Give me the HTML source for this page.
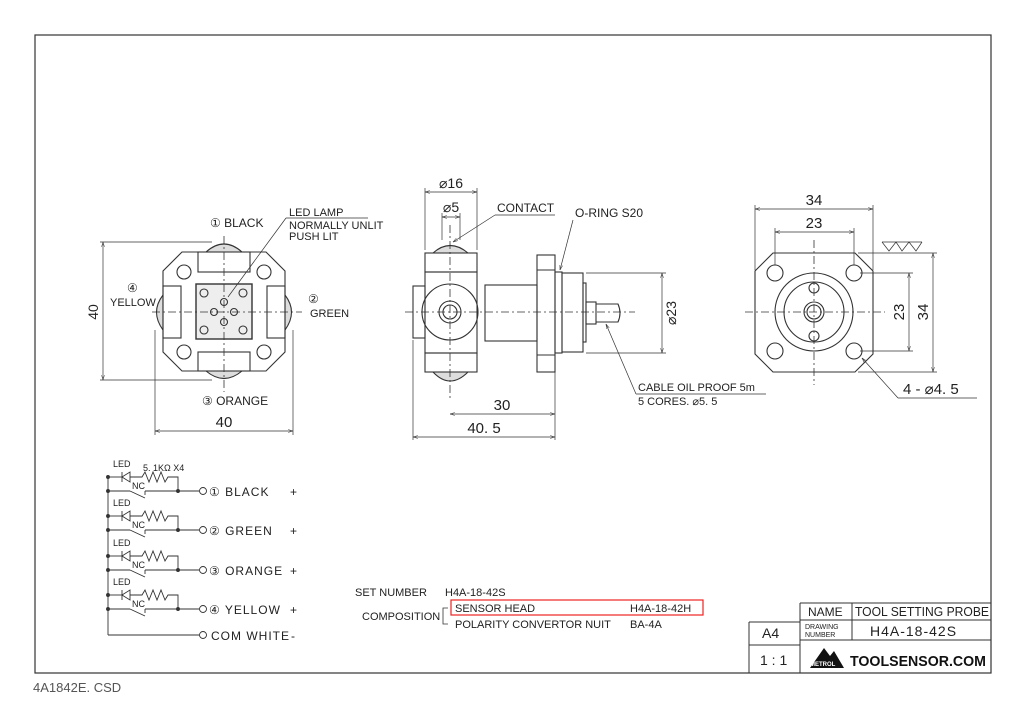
<!DOCTYPE html>
<html><head><style>body{margin:0;background:#fff}svg{display:block}text{font-family:"Liberation Sans",sans-serif;fill:#222;stroke:none}</style></head><body>
<svg width="1024" height="724" viewBox="0 0 1024 724" xmlns="http://www.w3.org/2000/svg" stroke="#333" fill="none" stroke-width="1">
<defs><marker id="a" viewBox="0 0 10 10" refX="10" refY="5" markerWidth="7" markerHeight="7" orient="auto-start-reverse"><path d="M0,2 L10,5 L0,8" stroke="#333" fill="none"/></marker></defs>
<rect x="35" y="35" width="956" height="638" stroke-width="1.2"/>
<!-- LEFT VIEW -->
<g stroke-width="1.1">
<path d="M206,252 Q224,236 242,252" fill="#ddd"/><path d="M206,371 Q224,386 242,371" fill="#ddd"/>
<path d="M163,295 Q150,312 163,330" fill="#ddd"/><path d="M285,295 Q298,312 285,330" fill="#ddd"/>
<path d="M182,252 L266,252 L285,271 L285,352 L266,371 L182,371 L163,352 L163,271 Z" fill="#fff"/>
<rect x="198" y="252" width="52" height="20"/><rect x="198" y="352" width="52" height="19"/>
<rect x="163" y="286" width="18" height="52"/><rect x="267" y="286" width="18" height="52"/>
<rect x="196" y="284" width="56" height="55" fill="#eee" stroke-width="1.4"/>
<circle cx="184" cy="272" r="7"/><circle cx="264" cy="272" r="7"/><circle cx="184" cy="352" r="7"/><circle cx="264" cy="352" r="7"/>
<circle cx="204" cy="293" r="4"/><circle cx="243" cy="293" r="4"/><circle cx="204" cy="330" r="4"/><circle cx="243" cy="330" r="4"/>
<circle cx="224" cy="302" r="3.5"/><circle cx="224" cy="322" r="3.5"/><circle cx="214" cy="312" r="3.5"/><circle cx="234" cy="312" r="3.5"/>
</g>
<g stroke-dasharray="8,3,2,3" stroke-width="0.8"><line x1="224" y1="236" x2="224" y2="392"/><line x1="152" y1="312" x2="302" y2="312"/></g>
<line x1="100" y1="242" x2="212" y2="242" stroke-width=".7"/><line x1="100" y1="380" x2="212" y2="380" stroke-width=".7"/>
<line x1="103" y1="242" x2="103" y2="380" marker-start="url(#a)" marker-end="url(#a)" stroke-width=".7"/>
<line x1="155" y1="330" x2="155" y2="435" stroke-width=".7"/><line x1="293" y1="330" x2="293" y2="435" stroke-width=".7"/>
<line x1="155" y1="431" x2="293" y2="431" marker-start="url(#a)" marker-end="url(#a)" stroke-width=".7"/>
<text x="92" y="318" font-size="14" transform="rotate(-90 92 312)" text-anchor="middle">40</text>
<text x="224" y="427" font-size="15" text-anchor="middle">40</text>
<text x="210" y="227" font-size="12">① BLACK</text>
<text x="289" y="216" font-size="11">LED LAMP</text>
<line x1="286" y1="218" x2="368" y2="218" stroke-width=".7"/>
<text x="289" y="229" font-size="11">NORMALLY UNLIT</text><text x="289" y="240" font-size="11">PUSH LIT</text>
<line x1="286" y1="218" x2="228" y2="297" stroke-width=".7"/>
<text x="127" y="292" font-size="12">④</text><text x="110" y="306" font-size="11">YELLOW</text>
<text x="308" y="303" font-size="12">②</text><text x="310" y="317" font-size="11">GREEN</text>
<text x="202" y="405" font-size="12">③ ORANGE</text>
<!-- MIDDLE VIEW -->
<g stroke-width="1.1">
<path d="M433,253 Q450,238 468,253" fill="#ddd"/><path d="M433,372 Q450,390 468,372" fill="#ddd"/>
<rect x="425" y="253" width="52" height="19"/><rect x="425" y="353" width="52" height="19"/>
<rect x="425" y="272" width="52" height="81"/>
<rect x="413" y="286" width="12" height="52"/>
<circle cx="450" cy="312" r="28"/><circle cx="450" cy="312" r="11"/><circle cx="450" cy="312" r="7"/>
<rect x="485" y="285" width="52" height="56"/>
<rect x="537" y="255" width="18" height="117"/><line x1="537" y1="270" x2="555" y2="270"/><line x1="537" y1="355" x2="555" y2="355"/>
<rect x="555" y="272" width="7" height="81"/>
<rect x="562" y="273" width="21" height="79"/>
<rect x="583" y="283" width="3" height="59"/>
<rect x="586" y="302" width="10" height="22"/>
<path d="M596,304 L618,304 Q622,313 618,322 L596,322"/>
</g>
<line x1="405" y1="312" x2="635" y2="312" stroke-dasharray="8,3,2,3" stroke-width=".8"/>
<line x1="450" y1="225" x2="450" y2="400" stroke-dasharray="8,3,2,3" stroke-width=".8"/>
<g stroke-width=".7">
<line x1="425" y1="188" x2="425" y2="250"/><line x1="477" y1="188" x2="477" y2="250"/>
<line x1="425" y1="192" x2="477" y2="192" marker-start="url(#a)" marker-end="url(#a)"/>
<line x1="442" y1="213" x2="442" y2="240"/><line x1="460" y1="213" x2="460" y2="240"/>
<line x1="442" y1="217" x2="460" y2="217" marker-start="url(#a)" marker-end="url(#a)"/>
<line x1="555" y1="372" x2="555" y2="440"/><line x1="413" y1="340" x2="413" y2="440"/>
<line x1="450" y1="414" x2="555" y2="414" marker-start="url(#a)" marker-end="url(#a)"/>
<line x1="413" y1="437" x2="555" y2="437" marker-start="url(#a)" marker-end="url(#a)"/>
<line x1="586" y1="273" x2="666" y2="273"/><line x1="586" y1="353" x2="666" y2="353"/>
<line x1="662" y1="273" x2="662" y2="353" marker-start="url(#a)" marker-end="url(#a)"/>
<line x1="495" y1="215" x2="555" y2="215"/><line x1="495" y1="215" x2="453" y2="242" marker-end="url(#a)"/>
<line x1="573" y1="220" x2="560" y2="270" marker-end="url(#a)"/>
<line x1="636" y1="394" x2="766" y2="394"/><line x1="636" y1="394" x2="606" y2="324" marker-end="url(#a)"/>
</g>
<text x="451" y="188" font-size="14" text-anchor="middle">⌀16</text>
<text x="451" y="212" font-size="14" text-anchor="middle">⌀5</text>
<text x="497" y="212" font-size="12">CONTACT</text>
<text x="575" y="217" font-size="12">O-RING S20</text>
<text x="676" y="313" font-size="14" transform="rotate(-90 676 313)" text-anchor="middle">⌀23</text>
<text x="638" y="391" font-size="11">CABLE OIL PROOF 5m</text>
<text x="638" y="405" font-size="11">5 CORES. ⌀5. 5</text>
<text x="502" y="410" font-size="15" text-anchor="middle">30</text>
<text x="484" y="433" font-size="15" text-anchor="middle">40. 5</text>
<!-- RIGHT VIEW -->
<g stroke-width="1.1">
<path d="M773,253 L855,253 L873,271 L873,354 L855,372 L773,372 L755,354 L755,271 Z"/>
<circle cx="814" cy="312" r="39"/><circle cx="814" cy="312" r="30"/><circle cx="814" cy="312" r="10"/><circle cx="814" cy="312" r="7"/>
<circle cx="775" cy="273" r="8"/><circle cx="854" cy="273" r="8"/><circle cx="775" cy="351" r="8"/><circle cx="854" cy="351" r="8"/>
<circle cx="814" cy="288" r="5"/><circle cx="814" cy="336" r="5"/>
</g>
<g stroke-dasharray="8,3,2,3" stroke-width=".8"><line x1="814" y1="240" x2="814" y2="385"/><line x1="745" y1="312" x2="885" y2="312"/></g>
<g stroke-width=".7">
<line x1="755" y1="205" x2="755" y2="270"/><line x1="873" y1="205" x2="873" y2="270"/>
<line x1="755" y1="209" x2="873" y2="209" marker-start="url(#a)" marker-end="url(#a)"/>
<line x1="775" y1="228" x2="775" y2="265"/><line x1="854" y1="228" x2="854" y2="265"/>
<line x1="775" y1="232" x2="854" y2="232" marker-start="url(#a)" marker-end="url(#a)"/>
<line x1="860" y1="273" x2="913" y2="273"/><line x1="860" y1="351" x2="913" y2="351"/>
<line x1="909" y1="273" x2="909" y2="351" marker-start="url(#a)" marker-end="url(#a)"/>
<line x1="858" y1="253" x2="937" y2="253"/><line x1="858" y1="372" x2="937" y2="372"/>
<line x1="933" y1="253" x2="933" y2="372" marker-start="url(#a)" marker-end="url(#a)"/>
<path d="M882,242 L922,242 M882,242 L889,251 L896,242 L902,251 L909,242 L916,251 L922,242"/>
<line x1="898" y1="398" x2="977" y2="398"/><line x1="898" y1="398" x2="862" y2="358" marker-end="url(#a)"/>
</g>
<text x="814" y="205" font-size="15" text-anchor="middle">34</text>
<text x="814" y="228" font-size="15" text-anchor="middle">23</text>
<text x="904" y="312" font-size="15" transform="rotate(-90 904 312)" text-anchor="middle">23</text>
<text x="928" y="312" font-size="15" transform="rotate(-90 928 312)" text-anchor="middle">34</text>
<text x="903" y="394" font-size="15">4 - ⌀4. 5</text>
<!-- SCHEMATIC -->
<g stroke-width=".9">
<line x1="108" y1="477" x2="108" y2="635"/><line x1="108" y1="635" x2="199" y2="635"/><circle cx="203" cy="635" r="3.5"/>
<g id="r">
<line x1="108" y1="477" x2="122" y2="477"/><path d="M122,477 L130,472 L130,482 Z"/><line x1="122" y1="472" x2="122" y2="482"/>
<path d="M130,477 L142,477 L145,472 L149,482 L153,472 L157,482 L161,472 L165,482 L168,477 L178,477 L178,491"/>
<line x1="108" y1="491" x2="130" y2="491"/><line x1="130" y1="491" x2="145" y2="498"/><line x1="145" y1="495" x2="145" y2="491"/><line x1="145" y1="491" x2="199" y2="491"/>
<circle cx="108" cy="477" r="1.5" fill="#333"/><circle cx="108" cy="491" r="1.5" fill="#333"/><circle cx="178" cy="491" r="1.5" fill="#333"/>
<circle cx="203" cy="491" r="3.5"/>
</g>
<use href="#r" y="39"/><use href="#r" y="79"/><use href="#r" y="118"/>
</g>
<g font-size="9"><text x="113" y="467">LED</text><text x="113" y="506">LED</text><text x="113" y="546">LED</text><text x="113" y="585">LED</text>
<text x="132" y="489">NC</text><text x="132" y="528">NC</text><text x="132" y="568">NC</text><text x="132" y="607">NC</text>
<text x="143" y="471">5. 1KΩ  X4</text></g>
<g font-size="12" letter-spacing="1"><text x="209" y="496">① BLACK</text><text x="209" y="535">② GREEN</text><text x="209" y="575">③ ORANGE</text><text x="209" y="614">④ YELLOW</text><text x="211" y="640">COM WHITE</text>
<text x="290" y="496">+</text><text x="290" y="535">+</text><text x="290" y="575">+</text><text x="290" y="614">+</text><text x="291" y="640">-</text></g>
<!-- SET NUMBER -->
<g font-size="11"><text x="355" y="596">SET NUMBER</text><text x="445" y="596">H4A-18-42S</text>
<text x="362" y="620">COMPOSITION</text><text x="455" y="612">SENSOR HEAD</text><text x="630" y="612">H4A-18-42H</text>
<text x="455" y="628">POLARITY CONVERTOR NUIT</text><text x="630" y="628">BA-4A</text></g>
<path d="M448,608 L443,608 L443,624 L448,624" stroke-width=".8"/>
<rect x="451" y="600" width="252" height="15" stroke="#e22" stroke-width="1.2"/>
<!-- TITLE BLOCK -->
<g stroke-width="1"><path d="M800,603 L991,603 M800,603 L800,673 M800,620 L991,620 M800,640 L991,640 M852,603 L852,640 M749,622 L800,622 M749,622 L749,673 M749,645 L800,645"/></g>
<text x="808" y="616" font-size="12">NAME</text><text x="855" y="616" font-size="13" textLength="134" lengthAdjust="spacingAndGlyphs">TOOL SETTING PROBE</text>
<text x="805" y="629" font-size="7">DRAWING</text><text x="805" y="637" font-size="7">NUMBER</text>
<text x="870" y="636" font-size="14" letter-spacing="1">H4A-18-42S</text>
<text x="762" y="638" font-size="14">A4</text><text x="760" y="665" font-size="14">1 : 1</text>
<path d="M810,668 L824,648 L830,656 L834,651 L844,668 Z" fill="#111" stroke="none"/>
<text x="810" y="666" font-size="6" font-weight="bold" style="fill:#fff">METROL</text>
<text x="850" y="666" font-size="15" font-weight="bold" style="fill:#111" textLength="136" lengthAdjust="spacingAndGlyphs">TOOLSENSOR.COM</text>
<text x="33" y="692" font-size="13" style="fill:#555">4A1842E. CSD</text>
</svg>
</body></html>
